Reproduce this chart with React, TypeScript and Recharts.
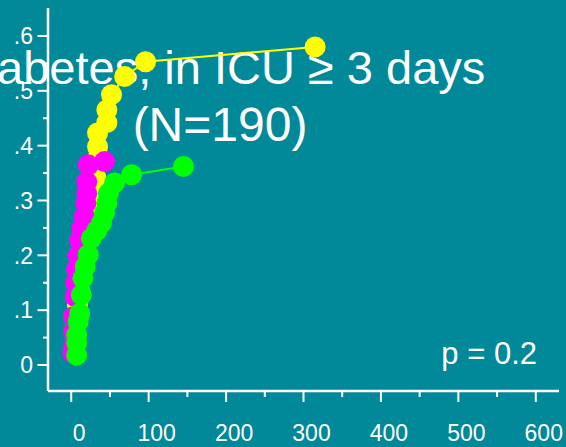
import React from 'react';
import { LineChart, Line, XAxis, YAxis, Customized } from 'recharts';

// cumulative proportion vs days, three groups
const yellowDays = [4, 5, 6, 8, 10, 12, 14, 17, 20, 24, 28, 32, 33, 34, 34, 46, 46, 52, 69, 96, 315];
const yellowRisk = [0.03, 0.055, 0.08, 0.11, 0.14, 0.17, 0.2, 0.23, 0.26, 0.29, 0.315, 0.341, 0.374, 0.398, 0.423, 0.442, 0.465, 0.493, 0.526, 0.553, 0.58];

const magentaDays = [2, 3, 3, 3, 5, 6, 7, 9, 11, 14, 17, 19, 20, 20, 22, 43];
const magentaRisk = [0.022, 0.035, 0.06, 0.088, 0.125, 0.15, 0.175, 0.2, 0.228, 0.25, 0.271, 0.295, 0.313, 0.334, 0.365, 0.371];

const greenDays = [7, 7, 7, 9, 11, 13, 15, 18, 22, 26, 33, 39, 43, 46, 48, 56, 78, 145];
const greenRisk = [0.018, 0.04, 0.055, 0.079, 0.094, 0.128, 0.158, 0.179, 0.201, 0.231, 0.245, 0.259, 0.277, 0.295, 0.313, 0.332, 0.347, 0.362];

const xTicks = [0, 50, 100, 150, 200, 250, 300, 350, 400, 450, 500, 550, 600];
const yTicks = [0, 0.05, 0.1, 0.15, 0.2, 0.25, 0.3, 0.35, 0.4, 0.45, 0.5, 0.55, 0.6];

const titleLine1 = 'Diabetes, in ICU \u2265 3 days';
const titleLine2 = '(N=190)';
const pValue = 'p = 0.2';

const zip = (xs: number[], ys: number[]) => xs.map((x, i) => ({ x, y: ys[i] }));

const yellow = zip(yellowDays, yellowRisk);
const magenta = zip(magentaDays, magentaRisk);
const green = zip(greenDays, greenRisk);

const BG = '#018899';
const FONT = '"Liberation Sans", Arial, sans-serif';

const XTick = (props: any) => {
  const { x, y, payload } = props;
  const major = payload.value % 100 === 0;
  return (
    <g>
      <line x1={x} x2={x} y1={y} y2={y + (major ? 11 : 6)} stroke="#fff" strokeWidth={2} />
      {major && (
        <text x={x + 8} y={y + 50} textAnchor="middle" fill="#fff" fontSize={23} fontFamily={FONT}>
          {payload.value}
        </text>
      )}
    </g>
  );
};

const YTick = (props: any) => {
  const { x, y, payload } = props;
  const v = payload.value;
  const major = Math.round(v * 100) % 10 === 0;
  const label = v === 0 ? '0' : '.' + Math.round(v * 10);
  return (
    <g>
      <line x1={x - (major ? 10.5 : 5)} x2={x} y1={y} y2={y} stroke="#fff" strokeWidth={2} />
      {major && (
        <text x={x - 15} y={y} dy="0.36em" textAnchor="end" fill="#fff" fontSize={23} fontFamily={FONT}>
          {label}
        </text>
      )}
    </g>
  );
};

const Annotations = () => (
  <g fontFamily={FONT} fill="#fff">
    <text x={219} y={84} textAnchor="middle" fontSize={47}>{titleLine1}</text>
    <text x={220} y={141} textAnchor="middle" fontSize={48}>{titleLine2}</text>
    <text x={537} y={364} textAnchor="end" fontSize={31}>{pValue}</text>
  </g>
);

export default function App() {
  return (
    <div style={{ position: 'absolute', left: 0, top: 0, width: 566, height: 447, background: BG }}>
      <LineChart width={566} height={447} margin={{ top: 8, right: 7, bottom: 0, left: 0 }}>
        <XAxis
          dataKey="x"
          type="number"
          domain={[-30, 630]}
          ticks={xTicks}
          interval={0}
          height={56}
          tickSize={0}
          tickMargin={0}
          tickLine={false}
          axisLine={{ stroke: '#fff', strokeWidth: 2.5 }}
          tick={<XTick />}
          allowDataOverflow
        />
        <YAxis
          type="number"
          domain={[-0.0474, 0.651]}
          ticks={yTicks}
          interval={0}
          width={48}
          tickSize={0}
          tickMargin={0}
          tickLine={false}
          axisLine={{ stroke: '#fff', strokeWidth: 2.5 }}
          tick={<YTick />}
          allowDataOverflow
        />
        <Line data={yellow} dataKey="y" stroke="#ffff00" strokeWidth={2} dot={{ r: 10.5, fill: '#ffff00', stroke: 'none' }} isAnimationActive={false} />
        <Line data={magenta} dataKey="y" stroke="#ff00ff" strokeWidth={2} dot={{ r: 10.5, fill: '#ff00ff', stroke: 'none' }} isAnimationActive={false} />
        <Line data={green} dataKey="y" stroke="#00ff00" strokeWidth={2} dot={{ r: 10.5, fill: '#00ff00', stroke: 'none' }} isAnimationActive={false} />
        <Customized component={Annotations} />
      </LineChart>
    </div>
  );
}
